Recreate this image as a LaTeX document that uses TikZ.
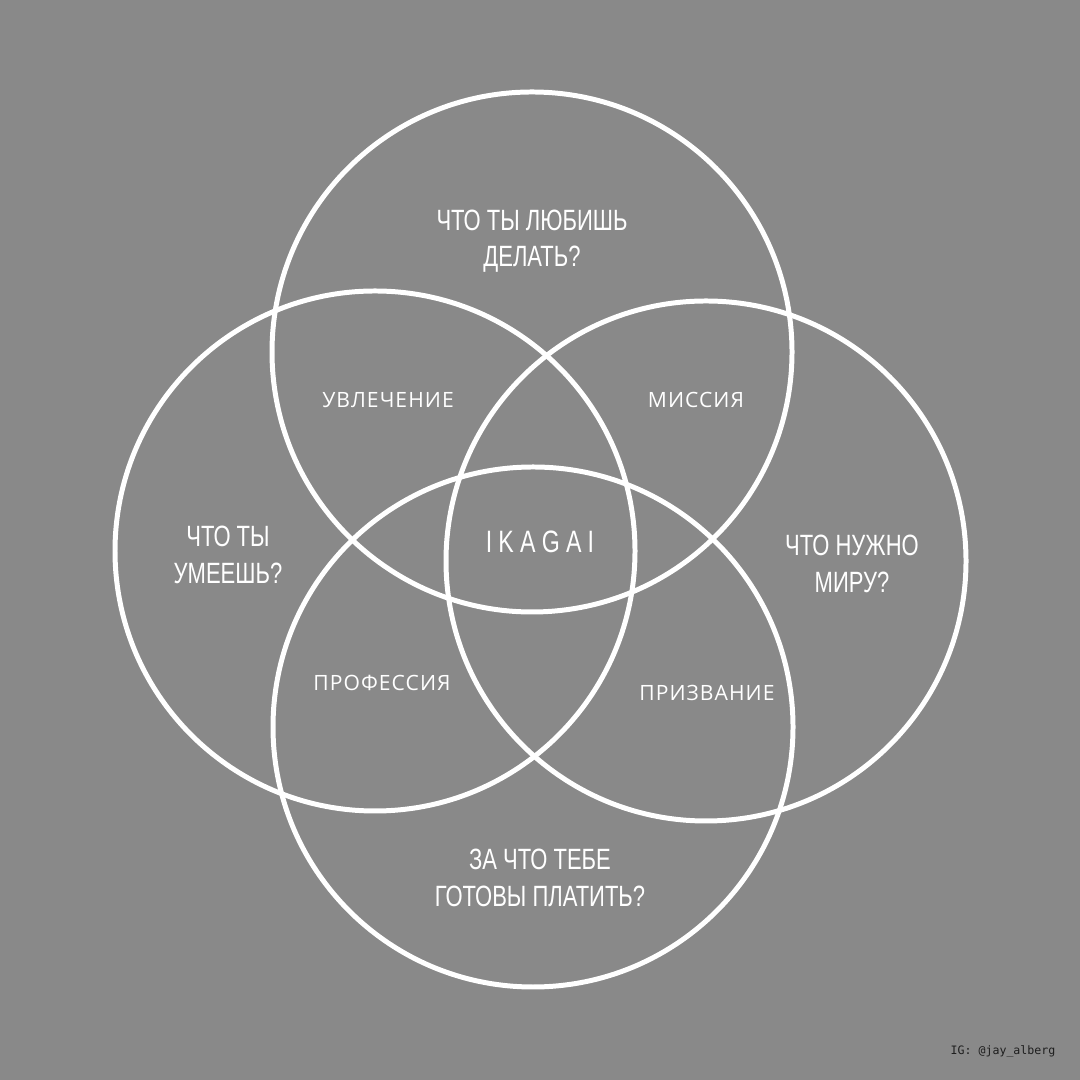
\documentclass[tikz,border=0pt]{standalone}
\usepackage{fontspec}
\usepackage{tikz}
\usepackage{xcolor}
\newfontfamily\condfont[FakeStretch=0.75]{Liberation Sans}
\newfontfamily\spacedfont[FakeStretch=0.75,LetterSpace=20]{Liberation Sans}
\newfontfamily\labelfont[LetterSpace=5]{Open Sans}
\newfontfamily\tagfont{DejaVu Sans Mono}
\definecolor{bggray}{HTML}{898989}
\definecolor{taggray}{HTML}{1E1E1E}
\tikzstyle{ring} = [circle, draw=white, line width=1.42pt, minimum size=5.2cm, inner sep=0pt]
\tikzstyle{question} = [text=white, align=center, font=\condfont\fontsize{8.35}{10.3}\selectfont]
\tikzstyle{overlap} = [text=white, font=\labelfont\fontsize{6}{7}\selectfont]

\begin{document}
\begin{tikzpicture}
  \fill[bggray] (0,0) rectangle (10.8,10.8);
  \useasboundingbox (0,0) rectangle (10.8,10.8);

  \node[ring] (love) at (5.32,7.28) {};
  \node[ring] (skill) at (3.75,5.29) {};
  \node[ring] (need) at (7.06,5.19) {};
  \node[ring] (paid) at (5.33,3.53) {};

  \node[question] (q_love) at (5.32,8.39) {ЧТО ТЫ ЛЮБИШЬ\\ДЕЛАТЬ?};
  \node[question] (q_skill) at (2.28,5.25) {ЧТО ТЫ\\УМЕЕШЬ?};
  \node[question] (q_need) at (8.52,5.16) {ЧТО НУЖНО\\МИРУ?};
  \node[question] (q_paid) at (5.40,2.02) {ЗА ЧТО ТЕБЕ\\ГОТОВЫ ПЛАТИТЬ?};

  \node[overlap] (passion) at (3.88,6.80) {УВЛЕЧЕНИЕ};
  \node[overlap] (mission) at (6.96,6.80) {МИССИЯ};
  \node[overlap] (profession) at (3.82,3.97) {ПРОФЕССИЯ};
  \node[overlap] (vocation) at (7.07,3.87) {ПРИЗВАНИЕ};

  \node[text=white, font=\spacedfont\fontsize{8.8}{10}\selectfont] (ikigai) at (5.40,5.38) {IKAGAI};

  \node[text=taggray, font=\tagfont\fontsize{3.3}{4}\selectfont] (tag) at (10.03,0.29) {IG: @jay\_alberg};
\end{tikzpicture}
\end{document}
